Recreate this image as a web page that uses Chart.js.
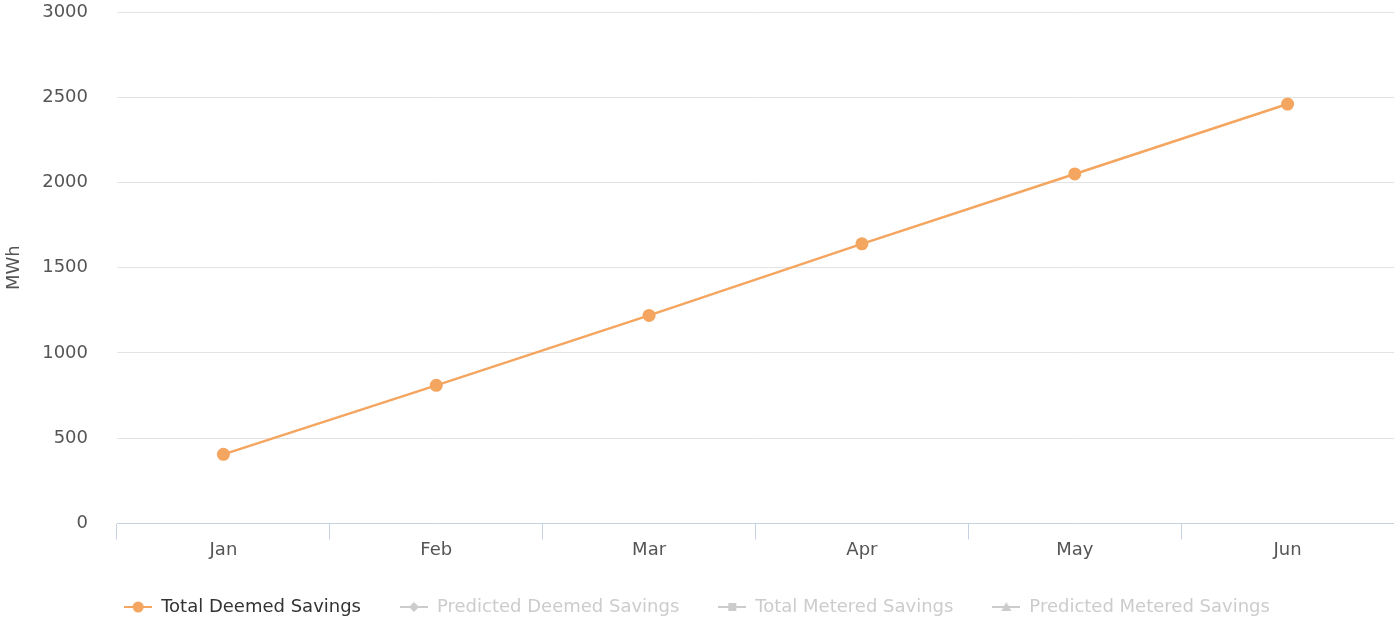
<!DOCTYPE html>
<html>
<head>
<meta charset="utf-8">
<script src="https://cdn.jsdelivr.net/npm/chart.js@4"></script>
<style>
  html, body { margin: 0; padding: 0; background: #ffffff; }
  #c { display: block; }
</style>
</head>
<body>
<canvas id="c" width="1394" height="619"></canvas>
<script>
const categories = ['Jan', 'Feb', 'Mar', 'Apr', 'May', 'Jun'];
const totalDeemedSavings = [405, 810, 1220, 1640, 2050, 2460];
const predictedDeemedSavings = [];
const totalMeteredSavings = [];
const predictedMeteredSavings = [];
const yTicks = [0, 500, 1000, 1500, 2000, 2500, 3000];
const yAxisTitle = 'MWh';

const ORANGE = '#f4a55f';
const GREYED = '#cccccc';
const FONT = "'DejaVu Sans', sans-serif";

function legendMarker(color, shape) {
  const c = document.createElement('canvas');
  c.width = 28; c.height = 14;
  const g = c.getContext('2d');
  g.strokeStyle = color; g.fillStyle = color; g.lineWidth = 2;
  g.beginPath(); g.moveTo(0, 7); g.lineTo(28, 7); g.stroke();
  g.beginPath();
  if (shape === 'circle') { g.arc(14, 7, 5.5, 0, Math.PI * 2); }
  else if (shape === 'diamond') { g.moveTo(14, 2); g.lineTo(19, 7); g.lineTo(14, 12); g.lineTo(9, 7); g.closePath(); }
  else if (shape === 'square') { g.rect(10, 3, 8, 8); }
  else if (shape === 'triangle') { g.moveTo(14, 2); g.lineTo(19, 11); g.lineTo(9, 11); g.closePath(); }
  g.fill();
  return c;
}

const markerShapes = ['circle', 'diamond', 'square', 'triangle'];

const chart = new Chart(document.getElementById('c'), {
  type: 'line',
  data: {
    labels: categories,
    datasets: [
      { label: 'Total Deemed Savings', data: totalDeemedSavings, borderColor: ORANGE, backgroundColor: ORANGE,
        borderWidth: 2.5, pointRadius: 6.5, pointHoverRadius: 6.5, pointBackgroundColor: ORANGE, pointBorderWidth: 0, tension: 0 },
      { label: 'Predicted Deemed Savings', data: predictedDeemedSavings, hidden: true, borderColor: GREYED, backgroundColor: GREYED },
      { label: 'Total Metered Savings', data: totalMeteredSavings, hidden: true, borderColor: GREYED, backgroundColor: GREYED },
      { label: 'Predicted Metered Savings', data: predictedMeteredSavings, hidden: true, borderColor: GREYED, backgroundColor: GREYED }
    ]
  },
  options: {
    responsive: false,
    animation: false,
    devicePixelRatio: 1,
    layout: { autoPadding: false, padding: { top: 12, right: 0, bottom: -7, left: 0 } },
    plugins: {
      tooltip: { enabled: false },
      legend: {
        position: 'bottom',
        align: 'center',
        labels: {
          usePointStyle: true,
          pointStyleWidth: 28,
          padding: 39,
          font: { family: FONT, size: 18 },
          generateLabels(ch) {
            return ch.data.datasets.map((ds, i) => {
              const hidden = !ch.isDatasetVisible(i);
              return {
                text: ds.label,
                datasetIndex: i,
                hidden: false,
                fontColor: hidden ? GREYED : '#333333',
                pointStyle: legendMarker(hidden ? GREYED : ORANGE, markerShapes[i]),
                fillStyle: 'transparent',
                strokeStyle: 'transparent',
                lineWidth: 0
              };
            });
          }
        }
      }
    },
    scales: {
      x: {
        offset: true,
        afterFit(scale) { scale.paddingLeft = 0; scale.paddingRight = 0; scale.height = scale.height - 2; },
        grid: { display: true, offset: true, drawOnChartArea: false, drawTicks: true, tickLength: 16, color: '#c4d2e2', lineWidth: 1 },
        border: { display: true, color: '#c4d2e2', width: 1 },
        ticks: { color: '#555555', font: { family: FONT, size: 18 }, padding: 0 }
      },
      y: {
        min: 0, max: 3000,
        afterBuildTicks(scale) { scale.ticks = yTicks.map(v => ({ value: v })); },
        afterFit(scale) { scale.width = 117; scale.paddingTop = 10; scale.paddingBottom = 10; },
        grid: { color: '#e3e3e3', lineWidth: 1, drawTicks: false },
        border: { display: false },
        ticks: { color: '#555555', font: { family: FONT, size: 18 }, padding: 29, callback: (v) => String(v) },
        title: { display: true, text: yAxisTitle, color: '#555555', font: { family: FONT, size: 18 }, padding: { top: 4, bottom: 0 } }
      }
    }
  }
});
</script>
</body>
</html>
